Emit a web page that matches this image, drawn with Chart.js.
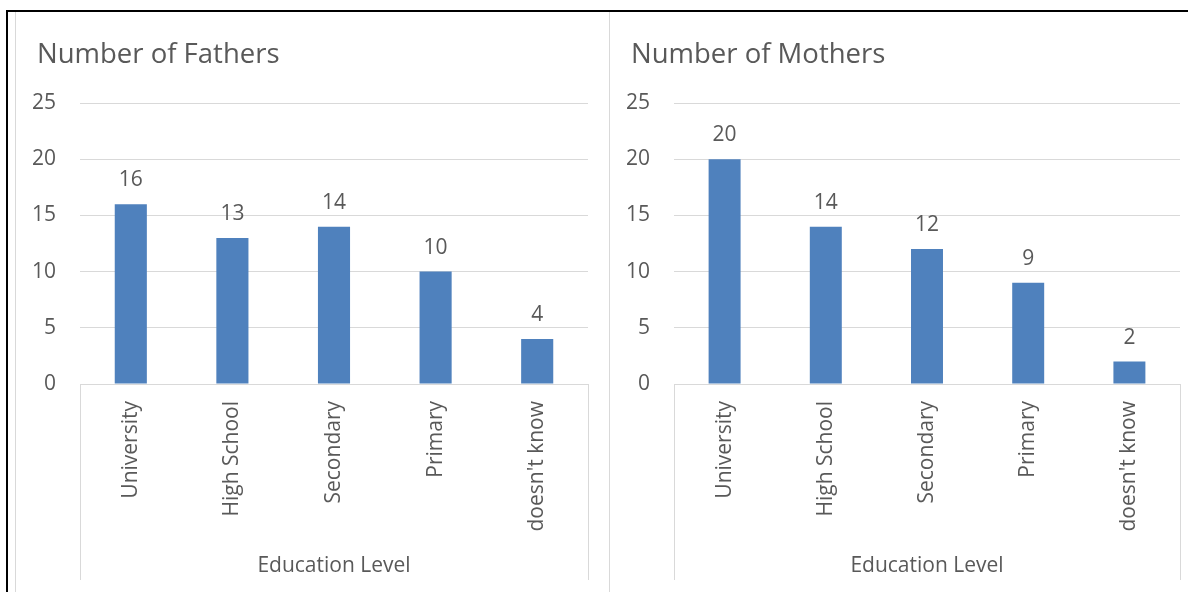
<!DOCTYPE html>
<html>
<head>
<meta charset="utf-8">
<script src="https://cdn.jsdelivr.net/npm/chart.js@4/dist/chart.umd.min.js"></script>
<style>
  html, body { margin: 0; padding: 0; background: #fff; }
  body { width: 1188px; height: 592px; position: relative; overflow: hidden; }
  .frame { position: absolute; left: 6px; top: 10px; width: 1182px; height: 582px;
           border-left: 2px solid #000; border-top: 2px solid #000; box-sizing: border-box; }
  .panel { position: absolute; top: 12px; height: 580px; border-left: 1px solid #d9d9d9; box-sizing: border-box; }
  #p1 { left: 15px; width: 595px; }
  #p2 { left: 609px; width: 579px; }
  .panel canvas { display: block; }
</style>
</head>
<body>
<div class="frame"></div>
<div class="panel" id="p1"><canvas id="chartFathers"></canvas></div>
<div class="panel" id="p2"><canvas id="chartMothers"></canvas></div>

<script>
const categories = ["University", "High School", "Secondary", "Primary", "doesn't know"];
const fathers = [16, 13, 14, 10, 4];
const mothers = [20, 14, 12, 9, 2];
const yTicks = [0, 5, 10, 15, 20, 25];

const textColor = "#595959";
const gridColor = "#d9d9d9";
const barColor = "#4f81bd";
const fontFamily = "'Open Sans', 'Noto Sans', sans-serif";

Chart.defaults.font.family = fontFamily;
Chart.defaults.color = textColor;

// chart heading, left aligned a little inside the panel
const heading = {
  id: "heading",
  afterDraw(chart, args, opts) {
    const ctx = chart.ctx;
    ctx.save();
    ctx.font = `27.5px ${fontFamily}`;
    ctx.fillStyle = textColor;
    ctx.textAlign = "left";
    ctx.textBaseline = "alphabetic";
    ctx.fillText(opts.text, 21, 51);
    ctx.restore();
  },
};

// value labels above each bar
const valueLabels = {
  id: "valueLabels",
  afterDatasetsDraw(chart) {
    const ctx = chart.ctx;
    const ds = chart.data.datasets[0];
    ctx.save();
    ctx.font = `21px ${fontFamily}`;
    ctx.fillStyle = textColor;
    ctx.textAlign = "center";
    ctx.textBaseline = "middle";
    chart.getDatasetMeta(0).data.forEach((bar, i) => {
      ctx.fillText(ds.data[i], bar.x, bar.y - 24);
    });
    ctx.restore();
  },
};

// the category axis box: side lines down to the axis title
const axisBox = {
  id: "axisBox",
  afterDraw(chart) {
    const { ctx, chartArea } = chart;
    ctx.save();
    ctx.strokeStyle = gridColor;
    ctx.lineWidth = 1;
    ctx.beginPath();
    [chartArea.left, chartArea.right].forEach((x) => {
      const px = Math.round(x) + 0.5;
      ctx.moveTo(px, chartArea.bottom);
      ctx.lineTo(px, chart.height - 12);
    });
    ctx.stroke();
    ctx.restore();
  },
};

function createChart(id, title, values, padRight) {
  const ctx = document.getElementById(id).getContext("2d");
  return new Chart(ctx, {
    type: "bar",
    data: {
      labels: categories,
      datasets: [{
        data: values,
        backgroundColor: barColor,
        borderWidth: 0,
        categoryPercentage: 1,
        barPercentage: 0.316,
      }],
    },
    options: {
      responsive: true,
      maintainAspectRatio: false,
      animation: false,
      layout: { padding: { left: 0, right: padRight, top: 91, bottom: 0 } },
      plugins: {
        legend: { display: false },
        tooltip: { enabled: false },
        title: { display: false },
        heading: { text: title },
      },
      scales: {
        y: {
          min: 0,
          max: 25,
          afterFit(scale) { scale.width = 64; },
          afterBuildTicks(scale) { scale.ticks = yTicks.map((v) => ({ value: v })); },
          border: { display: false },
          grid: { color: gridColor, drawTicks: false },
          ticks: { padding: 24, font: { size: 21 }, color: textColor },
        },
        x: {
          afterFit(scale) { scale.height = 208; },
          border: { display: false },
          grid: { display: false },
          ticks: { minRotation: 90, maxRotation: 90, padding: 9, font: { size: 21 }, color: textColor },
          title: {
            display: true,
            text: "Education Level",
            color: textColor,
            font: { size: 21 },
            padding: { top: 0, bottom: 13 },
          },
        },
      },
    },
    plugins: [heading, valueLabels, axisBox],
  });
}

createChart("chartFathers", "Number of Fathers", fathers, 22);
createChart("chartMothers", "Number of Mothers", mothers, 8);
</script>
</body>
</html>
